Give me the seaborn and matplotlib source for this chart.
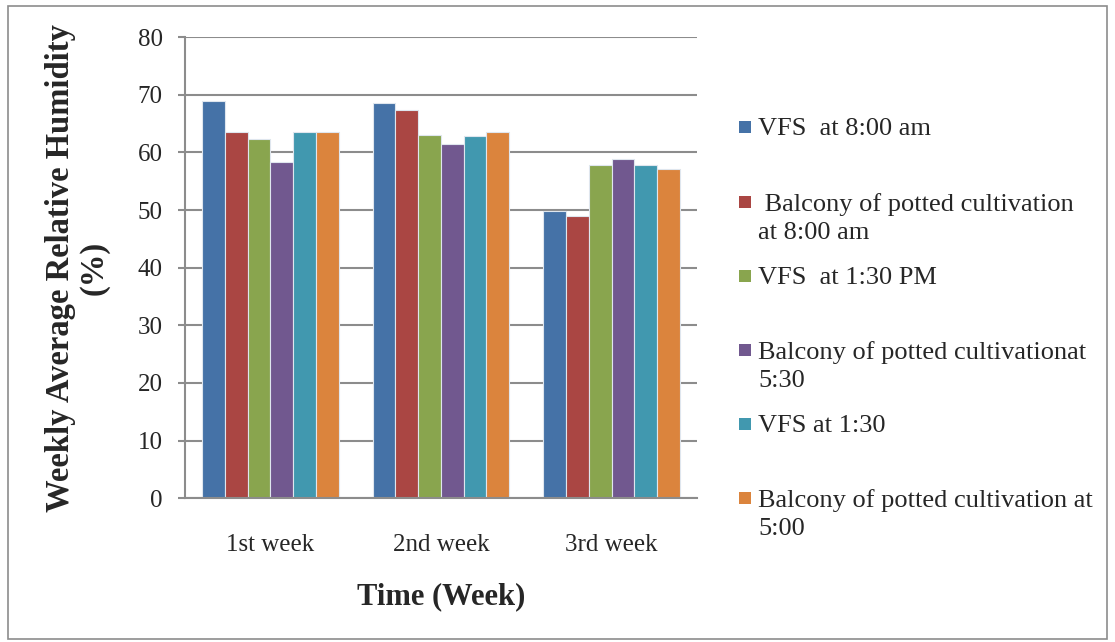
import numpy as np
import pandas as pd
import matplotlib
matplotlib.use("Agg")
import matplotlib.pyplot as plt
import seaborn as sns
from matplotlib.patches import Rectangle

# Data
weeks = ["1st week", "2nd week", "3rd week"]
series_names = [
    "VFS  at 8:00 am",
    " Balcony of potted cultivation\nat 8:00 am",
    "VFS  at 1:30 PM",
    "Balcony of potted cultivationat\n5:30",
    "VFS at 1:30",
    "Balcony of potted cultivation at\n5:00",
]
vfs_800 = [69.0, 68.5, 49.8]
balcony_800 = [63.5, 67.3, 49.0]
vfs_130pm = [62.4, 63.0, 57.8]
balcony_530 = [58.4, 61.5, 58.9]
vfs_130 = [63.5, 62.8, 57.9]
balcony_500 = [63.5, 63.5, 57.2]
colors = ["#4572A7", "#AA4643", "#89A54E", "#71588F", "#4198AF", "#DB843D"]

all_values = [vfs_800, balcony_800, vfs_130pm, balcony_530, vfs_130, balcony_500]
rows = []
for name, vals in zip(series_names, all_values):
    for w, v in zip(weeks, vals):
        rows.append({"week": w, "series": name, "value": v})
df = pd.DataFrame(rows)

sns.set_style("white")
plt.rcParams["font.family"] = ["Liberation Serif", "DejaVu Serif"]

fig = plt.figure(figsize=(11.15, 6.42), dpi=100)
ax = fig.add_axes([0.166, 0.224, 0.459, 0.718])

sns.barplot(data=df, x="week", y="value", hue="series", palette=colors,
            saturation=1, edgecolor="#dfe6ee", linewidth=0.8, width=0.8,
            legend=False, ax=ax)

ax.set_ylim(0, 80)
ax.set_yticks(np.arange(0, 81, 10))
ax.set_xlim(-0.5, 2.5)
ax.yaxis.grid(True, color="#8c8c8c", linewidth=1.5)
ax.set_axisbelow(True)
for side in ["top", "right"]:
    ax.spines[side].set_visible(False)
for side in ["left", "bottom"]:
    ax.spines[side].set_color("#8c8c8c")
    ax.spines[side].set_linewidth(1.5)

ax.tick_params(axis="y", length=5, width=1.5, color="#8c8c8c", pad=11, labelsize=18, left=True)
ax.tick_params(axis="x", length=0, pad=26, labelsize=18)

ax.set_xlabel("Time (Week)", fontsize=22, fontweight="bold", labelpad=19)
ax.set_ylabel("Weekly Average Relative Humidity\n(%)", fontsize=23.5, fontweight="bold",
              labelpad=20, linespacing=1.1)

# legend drawn to the right, marker aligned with first text line
legend_y = [127, 202, 276, 350, 424, 498]
W, H = 1115, 642
for name, col, yp in zip(series_names, colors, legend_y):
    fig.patches.append(Rectangle((739 / W, 1 - (yp + 6) / H), 12 / W, 12 / H,
                                 transform=fig.transFigure, facecolor=col,
                                 edgecolor="none"))
    fig.text(758 / W, 1 - (yp - 9) / H, name, fontsize=19, va="top", ha="left",
             linespacing=1.38)

# outer chart border
fig.patches.append(Rectangle((8 / W, 3 / H), 1099 / W, 633 / H, transform=fig.transFigure,
                             facecolor="none", edgecolor="#8c8c8c", linewidth=1.2))

fig.savefig("out.png", dpi=100)
